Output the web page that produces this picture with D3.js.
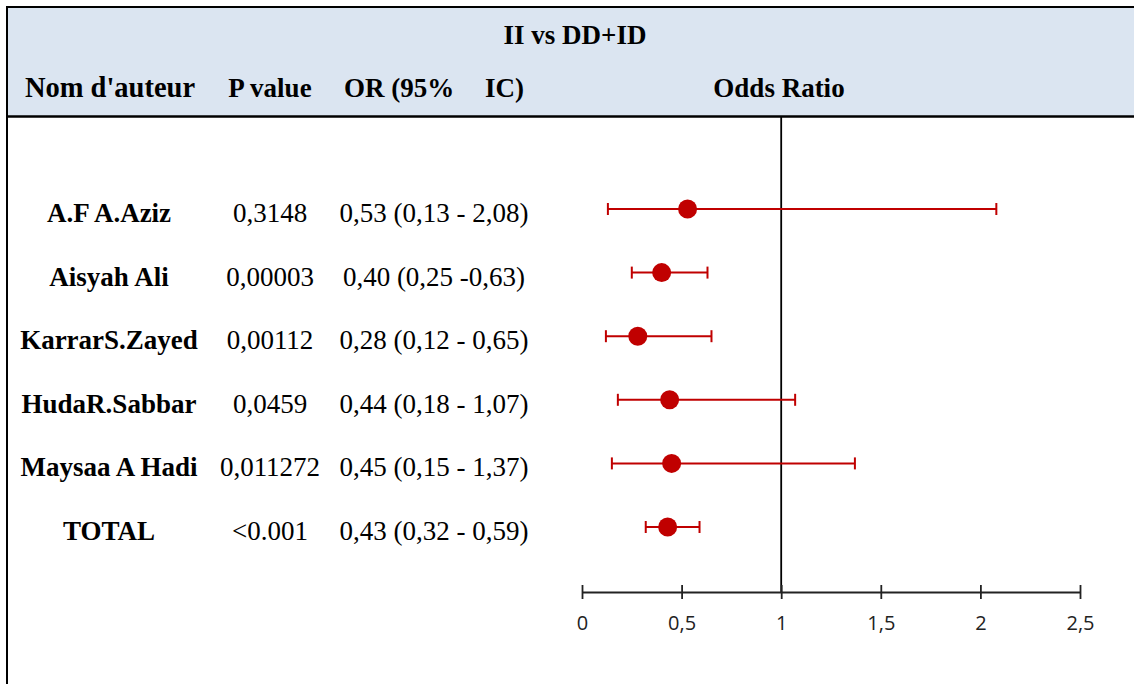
<!DOCTYPE html>
<html>
<head>
<meta charset="utf-8">
<script src="https://cdn.jsdelivr.net/npm/d3@7"></script>
<style>
  body { margin: 0; background: #fff; }
  .serif { font-family: "Liberation Serif", "Times New Roman", serif; fill: #000; }
  .axis text { font-family: "Open Sans", "Noto Sans", sans-serif; font-size: 20px; fill: #222; }
</style>
</head>
<body>
<script>
// Données
var auteurs = ["A.F A.Aziz", "Aisyah Ali", "KarrarS.Zayed", "HudaR.Sabbar", "Maysaa A Hadi", "TOTAL"];
var pvalues = ["0,3148", "0,00003", "0,00112", "0,0459", "0,011272", "<0.001"];
var or_labels = ["0,53 (0,13 - 2,08)", "0,40 (0,25 -0,63)", "0,28 (0,12 - 0,65)", "0,44 (0,18 - 1,07)", "0,45 (0,15 - 1,37)", "0,43 (0,32 - 0,59)"];
var or_val = [0.53, 0.40, 0.28, 0.44, 0.45, 0.43];
var ic_low = [0.13, 0.25, 0.12, 0.18, 0.15, 0.32];
var ic_high = [2.08, 0.63, 0.65, 1.07, 1.37, 0.59];
var ticks = [0, 0.5, 1, 1.5, 2, 2.5];

var width = 1134, height = 684;
var rouge = "#c00000";

var svg = d3.select("body").append("svg")
  .attr("width", width)
  .attr("height", height);

// en-tête bleu
svg.append("rect")
  .attr("x", 7).attr("y", 7)
  .attr("width", width - 7).attr("height", 109)
  .attr("fill", "#dbe5f1");

svg.append("line").attr("x1", 7).attr("x2", width).attr("y1", 7).attr("y2", 7)
  .attr("stroke", "#000").attr("stroke-width", 2);
svg.append("line").attr("x1", 7).attr("x2", width).attr("y1", 116.5).attr("y2", 116.5)
  .attr("stroke", "#000").attr("stroke-width", 2.5);
svg.append("line").attr("x1", 7).attr("x2", 7).attr("y1", 6).attr("y2", height)
  .attr("stroke", "#000").attr("stroke-width", 2);

var header = svg.append("g").attr("class", "serif")
  .style("font-weight", "bold").style("font-size", "27px");

header.append("text").attr("x", 575).attr("y", 44).attr("text-anchor", "middle").text("II vs DD+ID");
header.append("text").attr("x", 110).attr("y", 97).attr("text-anchor", "middle")
  .style("font-size", "28.5px").text("Nom d'auteur");
header.append("text").attr("x", 270).attr("y", 97).attr("text-anchor", "middle").text("P value");
header.append("text").attr("x", 344).attr("y", 97).attr("text-anchor", "start").text("OR (95%");
header.append("text").attr("x", 524).attr("y", 97).attr("text-anchor", "end").text("IC)");
header.append("text").attr("x", 779).attr("y", 97).attr("text-anchor", "middle").text("Odds Ratio");

// échelles
var x = d3.scaleLinear().domain([0, 2.5]).range([582, 1080]);
var y = d3.scaleLinear().domain([0, auteurs.length - 1]).range([209, 527]);
var axeY = 592;

// colonnes du tableau
var rows = svg.append("g").attr("class", "serif").style("font-size", "27px");
rows.selectAll(".nom").data(auteurs).enter().append("text")
  .attr("class", "nom")
  .attr("x", 109).attr("y", (d, i) => y(i) + 13)
  .attr("text-anchor", "middle")
  .style("font-weight", "bold")
  .text(d => d);
rows.selectAll(".pv").data(pvalues).enter().append("text")
  .attr("class", "pv")
  .attr("x", 270).attr("y", (d, i) => y(i) + 13)
  .attr("text-anchor", "middle")
  .text(d => d);
rows.selectAll(".or").data(or_labels).enter().append("text")
  .attr("class", "or")
  .attr("x", 434).attr("y", (d, i) => y(i) + 13)
  .attr("text-anchor", "middle")
  .text(d => d);

// ligne de référence OR = 1
svg.append("line")
  .attr("x1", x(1)).attr("x2", x(1))
  .attr("y1", 117).attr("y2", axeY)
  .attr("stroke", "#000").attr("stroke-width", 1.8);

// axe
var fr = d3.formatLocale({decimal: ",", thousands: " ", grouping: [3], currency: ["", " €"]});
var xAxis = d3.axisBottom(x)
  .tickValues(ticks)
  .tickSizeOuter(0)
  .tickSizeInner(7)
  .tickPadding(17)
  .tickFormat(fr.format("~g"));

var gx = svg.append("g")
  .attr("class", "axis")
  .attr("transform", "translate(0," + axeY + ")")
  .call(xAxis);
gx.select(".domain").attr("stroke", "#222").attr("stroke-width", 1.8);
gx.selectAll(".tick line").attr("y1", -7).attr("stroke", "#222").attr("stroke-width", 1.8);

// barres d'erreur
var barres = svg.append("g");
barres.selectAll(".ic").data(or_val).enter().append("line")
  .attr("x1", (d, i) => x(ic_low[i]))
  .attr("x2", (d, i) => x(ic_high[i]))
  .attr("y1", (d, i) => y(i)).attr("y2", (d, i) => y(i))
  .attr("stroke", rouge).attr("stroke-width", 2);
barres.selectAll(".capL").data(ic_low).enter().append("line")
  .attr("x1", d => x(d)).attr("x2", d => x(d))
  .attr("y1", (d, i) => y(i) - 6).attr("y2", (d, i) => y(i) + 6)
  .attr("stroke", rouge).attr("stroke-width", 2);
barres.selectAll(".capH").data(ic_high).enter().append("line")
  .attr("x1", d => x(d)).attr("x2", d => x(d))
  .attr("y1", (d, i) => y(i) - 6).attr("y2", (d, i) => y(i) + 6)
  .attr("stroke", rouge).attr("stroke-width", 2);
barres.selectAll("circle").data(or_val).enter().append("circle")
  .attr("cx", d => x(d))
  .attr("cy", (d, i) => y(i))
  .attr("r", 9.5)
  .attr("fill", rouge);
</script>
</body>
</html>
